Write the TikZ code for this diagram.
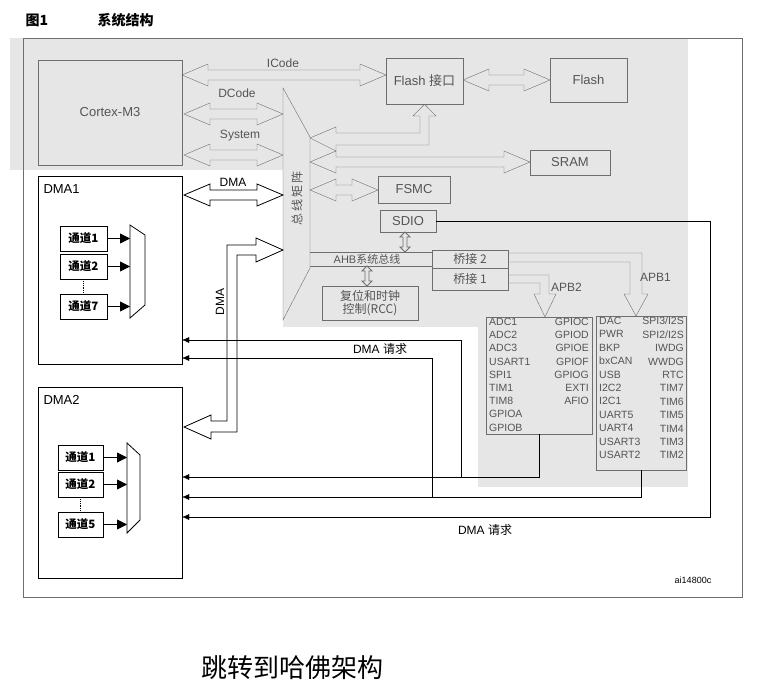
\documentclass[tikz,border=0pt]{standalone}
\usepackage{fontspec}
\setmainfont{Liberation Sans}
\newfontfamily\cjk{Noto Sans CJK SC}
\usetikzlibrary{calc, positioning, arrows.meta}

\definecolor{bgGrey}{HTML}{E6E6E6}
\definecolor{lineGrey}{HTML}{6E6E6E}
\definecolor{textGrey}{HTML}{555555}

\begin{document}
\begin{tikzpicture}[x=1pt, y=-1pt,
		box/.style={draw=lineGrey, text=textGrey, inner sep=0pt, font=\fontsize{13}{15}\selectfont},
		dbox/.style={draw, inner sep=0pt},
		chan/.style={draw, thick, minimum width=47pt, minimum height=25pt, inner sep=0pt, font=\cjk\bfseries\fontsize{11.5}{13}\selectfont},
		lbl/.style={text=textGrey, inner sep=0pt, font=\fontsize{12}{14}\selectfont},
		req/.style={-{Latex[length=7pt, width=6pt]}},
		chanArrow/.style={thick, -{Triangle[length=10pt, width=10pt]}},
	]
	\useasboundingbox (0,0) rectangle (768,699);

	% double headed fat arrow, horizontal: x1, x2, y
	\newcommand{\fatArrow}[4][lineGrey]
	{
		\draw [#1] (#2,#4) -- (#2+26,#4-11) -- (#2+26,#4-5) -- (#3-26,#4-5) -- (#3-26,#4-11)
			-- (#3,#4) -- (#3-26,#4+11) -- (#3-26,#4+5) -- (#2+26,#4+5) -- (#2+26,#4+11) -- cycle;
	}
	% small vertical double arrow: x, y1, y2
	\newcommand{\smallArrow}[3]
	{
		\draw [lineGrey, thick] (#1,#2) -- (#1-5,#2+5) -- (#1-2,#2+5) -- (#1-2,#3-5) -- (#1-5,#3-5) -- (#1,#3) -- (#1+5,#3-5)
			-- (#1+2,#3-5) -- (#1+2,#2+5) -- (#1+5,#2+5) -- cycle;
	}

	% background
	\fill [bgGrey] (10,38) rectangle (688,170);
	\fill [bgGrey] (283,170) rectangle (688,327);
	\fill [bgGrey] (478,327) rectangle (688,487);
	\draw [lineGrey] (23,38) -- (742,38) -- (742,597) -- (23,597) -- cycle;

	% title
	\node [anchor=west, font=\cjk\bfseries\fontsize{14}{16}\selectfont] at (22,20) {图1};
	\node [anchor=west, font=\cjk\bfseries\fontsize{14}{16}\selectfont] at (94,20) {系统结构};

	% core and memories
	\node [box, minimum width=144pt, minimum height=105pt] (cortex) at (110,112.5) {Cortex-M3};
	\node [box, minimum width=77pt, minimum height=46pt] (flashIf) at (424.5,81) {Flash {\cjk 接口}};
	\node [box, minimum width=77pt, minimum height=44pt] (flash) at (588.5,80) {Flash};
	\node [box, minimum width=80pt, minimum height=25pt] (sram) at (570,162.5) {SRAM};
	\node [box, minimum width=72pt, minimum height=27pt] (fsmc) at (414,189.5) {FSMC};
	\node [box, minimum width=56pt, minimum height=22pt] (sdio) at (408,221) {SDIO};
	\node [box, minimum width=76pt, minimum height=18pt, font=\cjk\fontsize{12}{14}\selectfont] (bridgeB) at (470,259) {桥接 2};
	\node [box, minimum width=76pt, minimum height=22pt, font=\cjk\fontsize{12}{14}\selectfont] (bridgeA) at (470,279) {桥接 1};
	\node [box, thick, minimum width=96pt, minimum height=34pt, align=center, font=\cjk\fontsize{12}{13}\selectfont] (rcc) at (370,303) {复位和时钟\\控制(RCC)};

	% bus matrix
	\draw [lineGrey] (283,88) -- (310,137) -- (310,268) -- (283,320) -- cycle;
	\node [lbl, rotate=90, font=\cjk\fontsize{12}{14}\selectfont] (matrix) at (297,198) {总\,线\,矩\,阵};

	% buses
	\fatArrow{182}{386}{75}
	\node [lbl] (icode) at (283,63) {ICode};
	\fatArrow{184}{283}{114}
	\node [lbl] (dcode) at (237,93) {DCode};
	\fatArrow{184}{283}{155}
	\node [lbl] (system) at (240,136) {System};
	\fatArrow{463}{550}{80}
	\fatArrow{310}{530}{162}
	\fatArrow{310}{378}{190}
	\draw [lineGrey] (310,138) -- (336,127) -- (336,133) -- (420,133) -- (420,116) -- (413,116) -- (flashIf.south)
		-- (436,116) -- (429,116) -- (429,145) -- (336,145) -- (336,151) -- cycle;

	% AHB
	\draw [lineGrey] (310,252) -- (bridgeB.west |- 0,252);
	\draw [lineGrey] (310,266) -- (bridgeB.west |- 0,266);
	\node [lbl, font=\fontsize{11}{13}\selectfont] (ahb) at (367,259) {AHB{\cjk 系统总线}};
	\smallArrow{405}{232}{252}
	\smallArrow{367}{266}{286}

	% APB2
	\draw [lineGrey] (bridgeA.east |- 0,275) -- (549,275) -- (549,294) -- (556,294) -- (545,317) -- (534,294) -- (540,294) -- (540,283) -- (bridgeA.east |- 0,283);
	\node [lbl, anchor=west] (apbB) at (551,287) {APB2};
	% APB1
	\draw [lineGrey] (bridgeB.east |- 0,253) -- (642,253) -- (642,294) -- (648,294) -- (636,316) -- (624,294) -- (630,294) -- (630,262) -- (bridgeB.east |- 0,262);
	\node [lbl, anchor=west] (apbA) at (640,277) {APB1};

	% peripherals
	\node [box, minimum width=106pt, minimum height=117pt] (apbTwo) at (539,375.5) {};
	\node [lbl, anchor=north west, align=left, font=\fontsize{10.5}{13.2}\selectfont] at (489,318) {ADC1\\ADC2\\ADC3\\USART1\\SPI1\\TIM1\\TIM8\\GPIOA\\GPIOB};
	\node [lbl, anchor=north east, align=right, font=\fontsize{10.5}{13.2}\selectfont] at (589,318) {GPIOC\\GPIOD\\GPIOE\\GPIOF\\GPIOG\\EXTI\\AFIO};
	\node [box, minimum width=90pt, minimum height=154pt] (apbOne) at (641,393) {};
	\node [lbl, anchor=north west, align=left, font=\fontsize{10.5}{13.4}\selectfont] at (599,317) {DAC\\PWR\\BKP\\bxCAN\\USB\\I2C2\\I2C1\\UART5\\UART4\\USART3\\USART2};
	\node [lbl, anchor=north east, align=right, font=\fontsize{10.5}{13.4}\selectfont] at (684,317) {SPI3/I2S\\SPI2/I2S\\IWDG\\WWDG\\RTC\\TIM7\\TIM6\\TIM5\\TIM4\\TIM3\\TIM2};

	% DMA controllers
	\node [dbox, minimum width=144pt, minimum height=188pt] (dmaA) at (110,270) {};
	\node [anchor=north west, font=\fontsize{13}{15}\selectfont] at (40,181) {DMA1};
	\node [chan] (chA1) at (83.5,238.5) {通道1};
	\node [chan] (chA2) at (83.5,266.5) {通道2};
	\node [chan] (chA7) at (83.5,306.5) {通道7};
	\draw [densely dotted, thick] (chA2) -- (chA7);
	\draw [thick] (130,225) -- (145,235) -- (145,305) -- (130,318) -- cycle;
	\foreach \c in {chA1, chA2, chA7}
		\draw [chanArrow] (\c.east) -- (\c.east -| 130,0);

	\node [dbox, minimum width=144pt, minimum height=191pt] (dmaB) at (110,482.5) {};
	\node [anchor=north west, font=\fontsize{13}{15}\selectfont] at (40,392) {DMA2};
	\node [chan, minimum width=45pt] (chB1) at (80.5,457.5) {通道1};
	\node [chan, minimum width=45pt] (chB2) at (80.5,484.5) {通道2};
	\node [chan, minimum width=45pt] (chB5) at (80.5,524.5) {通道5};
	\draw [densely dotted, thick] (chB2) -- (chB5);
	\draw [thick] (127,443) -- (140,455) -- (140,520) -- (127,533) -- cycle;
	\foreach \c in {chB1, chB2, chB5}
		\draw [chanArrow] (\c.east) -- (\c.east -| 127,0);

	% DMA buses
	\fatArrow[black, thick]{184}{283}{195}
	\node [font=\fontsize{12}{14}\selectfont] (dmaLblA) at (233,182) {DMA};
	\draw [thick] (283,250) -- (256,238) -- (256,245) -- (227,245) -- (227,421) -- (211,421) -- (211,415) -- (184,427)
		-- (211,439) -- (211,432) -- (237,432) -- (237,255) -- (256,255) -- (256,262) -- cycle;
	\node [rotate=90, font=\fontsize{12}{14}\selectfont] (dmaLblB) at (220,302) {DMA};

	% DMA requests
	\coordinate (sdioEnd) at (710,221);
	\draw [req] (sdio.east) -- (sdioEnd) -- (sdioEnd |- 0,517) -- (dmaB.east |- 0,517);
	\draw [req] (apbTwo.south) -- (apbTwo.south |- 0,477) -- (dmaB.east |- 0,477);
	\draw [req] (apbOne.south) -- (apbOne.south |- 0,497) -- (dmaB.east |- 0,497);
	\draw [req] (461,477) -- (461,340) -- (dmaA.east |- 0,340);
	\draw [req] (432,497) -- (432,358) -- (dmaA.east |- 0,358);
	\node [font=\fontsize{12}{14}\selectfont] (reqA) at (380,349) {DMA {\cjk 请求}};
	\node [font=\fontsize{12}{14}\selectfont] (reqB) at (485,530) {DMA {\cjk 请求}};

	\node [font=\fontsize{9}{11}\selectfont] (docId) at (693,580) {ai14800c};
	\node [font=\cjk\fontsize{26}{30}\selectfont] (caption) at (292,668) {跳转到哈佛架构};
\end{tikzpicture}
\end{document}
